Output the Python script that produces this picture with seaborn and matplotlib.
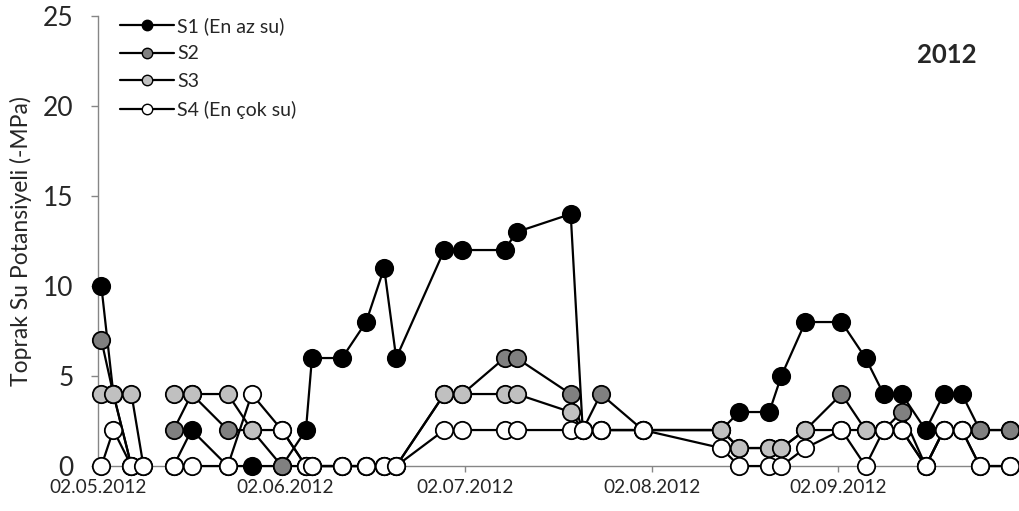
import pandas as pd
import numpy as np
import matplotlib
matplotlib.use("Agg")
import matplotlib.pyplot as plt
import matplotlib.dates as mdates
from matplotlib.lines import Line2D
import seaborn as sns

# sampling dates (12.05 is an empty row -> gap in all lines)
dates = ["02.05.2012", "04.05.2012", "07.05.2012", "09.05.2012", "12.05.2012",
         "14.05.2012", "17.05.2012", "23.05.2012", "27.05.2012", "01.06.2012",
         "05.06.2012", "06.06.2012", "11.06.2012", "15.06.2012", "18.06.2012",
         "20.06.2012", "28.06.2012", "01.07.2012", "08.07.2012", "10.07.2012",
         "19.07.2012", "21.07.2012", "24.07.2012", "31.07.2012", "13.08.2012",
         "16.08.2012", "21.08.2012", "23.08.2012", "27.08.2012", "02.09.2012",
         "06.09.2012", "09.09.2012", "12.09.2012", "16.09.2012", "19.09.2012",
         "22.09.2012", "25.09.2012", "30.09.2012"]

nan = np.nan
s1 = [10, 4, 0, nan, nan, 0, 2, 0, 0, 0, 2, 6, 6, 8, 11, 6, 12, 12, 12, 13,
      14, 2, 2, 2, 2, 3, 3, 5, 8, 8, 6, 4, 4, 2, 4, 4, 2, 2]
s2 = [7, 4, 0, nan, nan, 2, 4, 2, 2, 0, 0, 0, 0, 0, 0, 0, 4, 4, 6, 6,
      4, 2, 4, 2, 2, 1, 1, 1, 2, 4, 2, 2, 3, 0, 2, 2, 2, 2]
s3 = [4, 4, 4, 0, nan, 4, 4, 4, 2, 2, 0, 0, 0, 0, 0, 0, 4, 4, 4, 4,
      3, 2, 2, 2, 2, 1, 1, 1, 2, 2, 2, 2, 2, 0, 2, 2, 0, 0]
s4 = [0, 2, 0, 0, nan, 0, 0, 0, 4, 2, 0, 0, 0, 0, 0, 0, 2, 2, 2, 2,
      2, 2, 2, 2, 1, 0, 0, 0, 1, 2, 0, 2, 2, 0, 2, 2, 0, 0]

names = ["S1 (En az su)", "S2", "S3", "S4 (En çok su)"]
fills = ["black", "#808080", "#c0c0c0", "white"]

sns.set_style("white")
plt.rcParams['font.family'] = ['Lato', 'DejaVu Sans']

fig = plt.figure(figsize=(10.19, 5.11), dpi=100)
ax = fig.add_axes([0.0965, 0.088, 0.9035, 0.8806])

x = pd.to_datetime(dates, format="%d.%m.%Y") + pd.Timedelta(hours=12)

for name, vals, fc in zip(names, [s1, s2, s3, s4], fills):
    df = pd.DataFrame({"date": x, "value": vals})
    df["seg"] = df["value"].isna().cumsum()
    df = df.dropna()
    sns.lineplot(data=df, x="date", y="value", units="seg", estimator=None,
                 color="black", linewidth=1.6, marker="o", markersize=12.5,
                 markerfacecolor=fc, markeredgecolor="black",
                 markeredgewidth=1.3, legend=False, ax=ax)

ax.set_xlim(pd.Timestamp("2012-05-02"), pd.Timestamp("2012-10-02"))
ax.set_ylim(0, 25)
ax.set_yticks([0, 5, 10, 15, 20, 25])
ticks = pd.to_datetime(["02.05.2012", "02.06.2012", "02.07.2012",
                        "02.08.2012", "02.09.2012"], format="%d.%m.%Y")
ax.set_xticks(ticks)
ax.xaxis.set_major_formatter(mdates.DateFormatter("%d.%m.%Y"))
ax.set_xlabel("")
ax.set_ylabel("Toprak Su Potansiyeli (-MPa)", fontsize=16.5, labelpad=8)

for side in ["top", "right"]:
    ax.spines[side].set_visible(False)
for side in ["left", "bottom"]:
    ax.spines[side].set_color("#868686")
    ax.spines[side].set_linewidth(1.0)
    ax.spines[side].set_zorder(0)

ax.tick_params(axis="y", direction="out", length=5, width=1, color="#868686",
               labelsize=19, pad=13, left=True)
ax.tick_params(axis="x", direction="out", length=4, width=1, color="#868686",
               labelsize=13.7, pad=5, bottom=True)
for lbl in ax.get_xticklabels() + ax.get_yticklabels():
    lbl.set_clip_on(False)
for line in ax.get_lines():
    line.set_clip_on(False)

handles = [Line2D([], [], color="black", linewidth=1.6, marker="o",
                  markersize=7.5, markerfacecolor=fc, markeredgecolor="black",
                  markeredgewidth=1.0) for fc in fills]
ax.legend(handles, names, loc="upper left", bbox_to_anchor=(0.108, 0.986),
          bbox_transform=fig.transFigure, frameon=False, fontsize=14,
          handlelength=2.8, handletextpad=0.15, labelspacing=0.55, borderpad=0)

fig.text(0.929, 0.892, "2012", fontsize=18.5, fontweight="bold",
         ha="center", va="center")

fig.savefig("out.png", dpi=100)
